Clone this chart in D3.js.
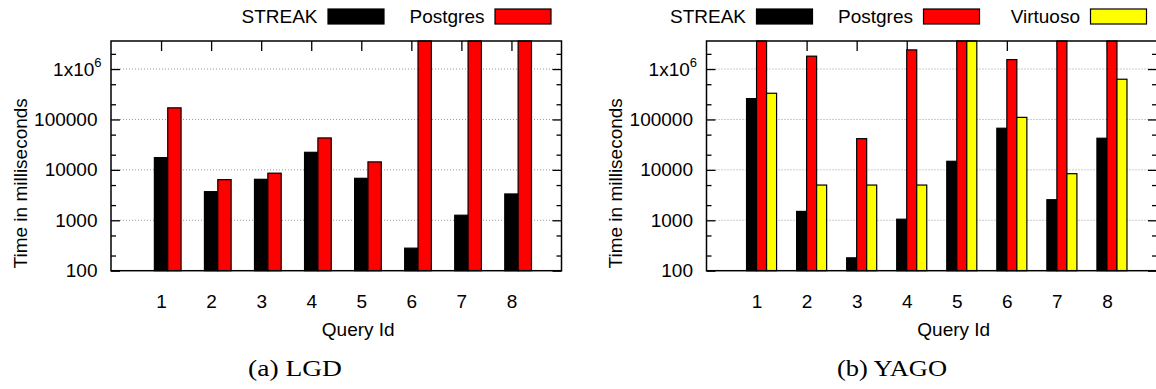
<!DOCTYPE html>
<html>
<head>
<meta charset="utf-8">
<script src="https://cdn.jsdelivr.net/npm/d3@7"></script>
<style>
  body { margin: 0; background: #fff; }
  svg { display: block; font-family: "Liberation Sans", Arial, sans-serif; }
</style>
</head>
<body>
<div id="chart"></div>
<script>
// query ids on the x axis
var queries = [1, 2, 3, 4, 5, 6, 7, 8];

// timeout (1 hour) is where the bars hit the top of the frame
var timeout = 3600000;

// (a) LGD, milliseconds
var lgdStreak   = [17500, 3700, 6500, 22300, 6800, 280, 1260, 3330];
var lgdPostgres = [170000, 6400, 8600, 43000, 14400, timeout, timeout, timeout];

// (b) YAGO, milliseconds
var yagoStreak   = [259000, 1500, 180, 1050, 14800, 67000, 2560, 42400];
var yagoPostgres = [timeout, 1800000, 41600, 2400000, timeout, 1540000, timeout, timeout];
var yagoVirtuoso = [331000, 5000, 5000, 5000, timeout, 110000, 8400, 628000];

var yTicks = [100, 1000, 10000, 100000, 1000000];
var yMinorTicks = [200, 500, 2000, 5000, 20000, 50000, 200000, 500000, 2000000];
var gridTicks = [1000, 10000, 100000, 1000000];

var width = 1156, height = 389;
var svg = d3.select("#chart").append("svg")
    .attr("width", width)
    .attr("height", height);

function drawPanel(opts) {
    var left = opts.left, right = opts.left + 450.5;
    var top = 41, bottom = 270.7;
    var n = opts.series.length;

    var x = d3.scaleLinear().domain([0, 9]).range([left, right]);
    var y = d3.scaleLog().domain([100, timeout]).range([bottom, top]);

    var g = svg.append("g");

    // dotted grid
    g.selectAll("line.grid")
        .data(gridTicks)
        .enter().append("line")
        .attr("class", "grid")
        .attr("x1", left).attr("x2", right)
        .attr("y1", function(d) { return y(d); })
        .attr("y2", function(d) { return y(d); })
        .attr("stroke", "#999")
        .attr("stroke-width", 1)
        .attr("stroke-dasharray", "1,2");

    // y axis, ticks pointing inwards
    var yAxis = g.append("g")
        .attr("transform", "translate(" + left + ",0)")
        .call(d3.axisLeft(y).tickValues(yTicks).tickSize(-9).tickPadding(13.5)
            .tickFormat(function(d) { return d; }));
    g.append("g")
        .attr("transform", "translate(" + left + ",0)")
        .call(d3.axisLeft(y).tickValues(yMinorTicks).tickSize(-5).tickFormat(""));
    g.append("g")
        .attr("transform", "translate(" + right + ",0)")
        .call(d3.axisRight(y).tickValues(yTicks).tickSize(-9).tickFormat(""));
    g.append("g")
        .attr("transform", "translate(" + right + ",0)")
        .call(d3.axisRight(y).tickValues(yMinorTicks).tickSize(-5).tickFormat(""));

    yAxis.selectAll("text")
        .attr("font-size", 19)
        .attr("fill", "#000")
        .attr("font-family", "Liberation Sans, Arial, sans-serif");
    // 1x10^6 label with a superscript
    yAxis.selectAll("text")
        .filter(function(d) { return d === 1000000; })
        .text(null)
        .attr("x", -9.5)
        .call(function(t) {
            t.append("tspan").text("1x10");
            t.append("tspan").text("6").attr("font-size", 13).attr("dy", "-0.65em");
        });

    // x axes (bottom labels + mirrored top ticks)
    var xAxis = g.append("g")
        .attr("transform", "translate(0," + bottom + ")")
        .call(d3.axisBottom(x).tickValues(queries).tickSize(-10).tickPadding(24));
    xAxis.selectAll("text")
        .attr("font-size", 19)
        .attr("fill", "#000")
        .attr("font-family", "Liberation Sans, Arial, sans-serif");
    g.append("g")
        .attr("transform", "translate(0," + top + ")")
        .call(d3.axisTop(x).tickValues(queries).tickSize(-10).tickFormat(""));

    g.selectAll(".domain").remove();
    g.selectAll(".tick line").attr("stroke", "#000").attr("stroke-width", 1.3);

    // bars
    var w = 0.8 / (n + 1);
    opts.series.forEach(function(s, i) {
        g.append("g").selectAll("rect")
            .data(s.values)
            .enter().append("rect")
            .attr("x", function(d, j) { return x(queries[j] + 0.4 - n * w + i * w); })
            .attr("width", x(w) - x(0))
            .attr("y", function(d) { return y(Math.min(d, timeout)); })
            .attr("height", function(d) { return bottom - y(Math.min(d, timeout)); })
            .attr("fill", s.color)
            .attr("stroke", "#000")
            .attr("stroke-width", 1.2);
    });

    // frame
    g.append("rect")
        .attr("x", left).attr("y", top)
        .attr("width", right - left).attr("height", bottom - top)
        .attr("fill", "none")
        .attr("stroke", "#000")
        .attr("stroke-width", 1.5);

    // legend, anchored at the right of the frame
    opts.series.forEach(function(s, i) {
        var boxRight = right - 10.5 - (n - 1 - i) * 167;
        g.append("rect")
            .attr("x", boxRight - 56).attr("y", 9)
            .attr("width", 56).attr("height", 15)
            .attr("fill", s.color)
            .attr("stroke", "#000")
            .attr("stroke-width", 1.2);
        g.append("text")
            .attr("x", boxRight - 56 - 10.5).attr("y", 23)
            .attr("text-anchor", "end")
            .attr("font-size", 19)
            .text(s.name);
    });

    // axis titles
    g.append("text")
        .attr("transform", "translate(" + (left - 84.5) + ",183.3) rotate(-90)")
        .attr("text-anchor", "middle")
        .attr("font-size", 19)
        .text("Time in milliseconds");
    g.append("text")
        .attr("x", (left + right) / 2 + 22).attr("y", 336)
        .attr("text-anchor", "middle")
        .attr("font-size", 19)
        .text("Query Id");

    // caption
    g.append("text")
        .attr("x", opts.captionX - opts.captionWidth / 2).attr("y", 376)
        .attr("font-family", "Liberation Serif, Times New Roman, serif")
        .attr("font-size", 23)
        .attr("textLength", opts.captionWidth)
        .attr("lengthAdjust", "spacingAndGlyphs")
        .text(opts.caption);
}

drawPanel({
    left: 111,
    caption: "(a) LGD",
    captionX: 295,
    captionWidth: 94,
    series: [
        { name: "STREAK", color: "#000000", values: lgdStreak },
        { name: "Postgres", color: "#ff0000", values: lgdPostgres }
    ]
});

drawPanel({
    left: 706.5,
    caption: "(b) YAGO",
    captionX: 892,
    captionWidth: 110,
    series: [
        { name: "STREAK", color: "#000000", values: yagoStreak },
        { name: "Postgres", color: "#ff0000", values: yagoPostgres },
        { name: "Virtuoso", color: "#ffff00", values: yagoVirtuoso }
    ]
});
</script>
</body>
</html>
